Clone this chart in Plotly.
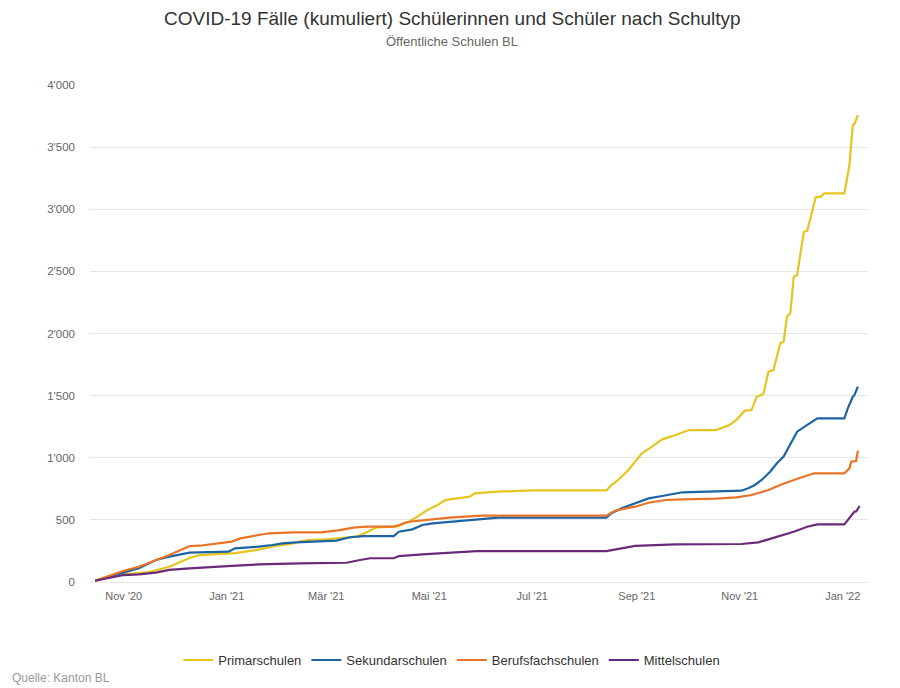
import plotly.graph_objects as go

# Primarschulen
prim_dates = ["2020-10-15", "2020-11-01", "2020-11-16", "2020-11-28", "2020-12-10", "2020-12-16",
              "2021-01-06", "2021-01-19", "2021-01-30", "2021-02-08", "2021-02-13", "2021-02-18",
              "2021-03-01", "2021-03-19", "2021-03-24", "2021-03-31", "2021-04-10", "2021-04-13",
              "2021-04-16", "2021-04-19", "2021-04-24", "2021-04-30", "2021-05-06", "2021-05-10",
              "2021-05-13", "2021-05-25", "2021-05-28", "2021-06-11", "2021-07-01", "2021-08-14",
              "2021-08-17", "2021-08-21", "2021-08-27", "2021-08-31", "2021-09-04", "2021-09-10",
              "2021-09-16", "2021-09-24", "2021-10-02", "2021-10-18", "2021-10-26", "2021-10-30",
              "2021-11-04", "2021-11-08", "2021-11-11", "2021-11-15", "2021-11-18", "2021-11-21",
              "2021-11-25", "2021-11-27", "2021-11-29", "2021-12-01", "2021-12-03", "2021-12-05",
              "2021-12-07", "2021-12-09", "2021-12-11", "2021-12-14", "2021-12-16", "2021-12-19",
              "2021-12-21", "2022-01-02", "2022-01-04", "2022-01-05", "2022-01-07", "2022-01-08",
              "2022-01-10"]
prim_vals = [10, 62, 80, 123, 193, 217,
             233, 258, 290, 306, 325, 338,
             343, 365, 394, 440, 445, 450,
             477, 485, 526, 580, 620, 655,
             665, 687, 714, 727, 738, 738,
             780, 821, 901, 968, 1035, 1089,
             1148, 1183, 1223, 1223, 1264, 1304,
             1379, 1384, 1491, 1513, 1693, 1706,
             1921, 1934, 2135, 2165, 2457, 2471,
             2645, 2819, 2827, 2994, 3096, 3101,
             3128, 3128, 3289, 3356, 3678, 3686,
             3758]

# Sekundarschulen
sek_dates = ["2020-10-15", "2020-11-01", "2020-11-10", "2020-11-20", "2020-11-28", "2020-12-10",
             "2021-01-02", "2021-01-06", "2021-01-20", "2021-01-28", "2021-02-03", "2021-02-11",
             "2021-02-19", "2021-02-26", "2021-03-07", "2021-03-15", "2021-03-23", "2021-04-10",
             "2021-04-13", "2021-04-21", "2021-04-27", "2021-05-03", "2021-05-13", "2021-05-29",
             "2021-06-11", "2021-08-14", "2021-08-17", "2021-08-23", "2021-08-31", "2021-09-08",
             "2021-09-16", "2021-09-28", "2021-11-02", "2021-11-06", "2021-11-10", "2021-11-14",
             "2021-11-19", "2021-11-23", "2021-11-27", "2021-12-01", "2021-12-05", "2021-12-11",
             "2021-12-15", "2021-12-17", "2022-01-02", "2022-01-04", "2022-01-07", "2022-01-08",
             "2022-01-10"]
sek_vals = [10, 75, 110, 177, 204, 236,
            244, 271, 284, 298, 311, 319,
            322, 325, 333, 360, 370, 370,
            405, 424, 459, 472, 485, 504,
            518, 518, 553, 593, 633, 673,
            692, 722, 735, 754, 781, 821,
            888, 955, 1009, 1116, 1210, 1264,
            1304, 1317, 1317, 1398, 1491, 1505,
            1572]

# Berufsfachschulen
beruf_dates = ["2020-10-15", "2020-11-01", "2020-11-10", "2020-11-20", "2020-11-28", "2020-12-10",
               "2020-12-16", "2021-01-04", "2021-01-09", "2021-01-20", "2021-01-26", "2021-02-09",
               "2021-02-26", "2021-03-09", "2021-03-17", "2021-03-25", "2021-04-10", "2021-04-19",
               "2021-05-03", "2021-05-13", "2021-06-01", "2021-08-14", "2021-08-19", "2021-08-31",
               "2021-09-08", "2021-09-18", "2021-09-28", "2021-10-18", "2021-10-30", "2021-11-08",
               "2021-11-18", "2021-11-25", "2021-12-03", "2021-12-11", "2021-12-15", "2022-01-02",
               "2022-01-05", "2022-01-06", "2022-01-09", "2022-01-10"]
beruf_vals = [10, 91, 123, 177, 217, 290,
              292, 325, 351, 378, 392, 400,
              400, 418, 437, 445, 445, 485,
              504, 518, 534, 534, 574, 606,
              638, 660, 665, 671, 681, 700,
              740, 781, 821, 856, 875, 875,
              915, 968, 974, 1057]

# Mittelschulen
mittel_dates = ["2020-10-15", "2020-11-01", "2020-11-10", "2020-11-20", "2020-11-28", "2020-12-10",
                "2021-01-04", "2021-01-20", "2021-02-13", "2021-03-13", "2021-03-21", "2021-03-27",
                "2021-04-10", "2021-04-13", "2021-04-27", "2021-05-13", "2021-05-29", "2021-08-14",
                "2021-08-23", "2021-08-31", "2021-09-16", "2021-09-24", "2021-11-02", "2021-11-12",
                "2021-11-18", "2021-11-25", "2021-12-03", "2021-12-11", "2021-12-17", "2022-01-02",
                "2022-01-05", "2022-01-08", "2022-01-09", "2022-01-11"]
mittel_vals = [10, 56, 62, 75, 97, 110,
               129, 142, 150, 155, 177, 191,
               191, 209, 223, 236, 249, 249,
               271, 290, 298, 303, 306, 319,
               343, 370, 405, 445, 464, 464,
               512, 566, 567, 612]

series = [
    ("Primarschulen", prim_dates, prim_vals, "#E5C51E"),
    ("Sekundarschulen", sek_dates, sek_vals, "#1C64A2"),
    ("Berufsfachschulen", beruf_dates, beruf_vals, "#E97326"),
    ("Mittelschulen", mittel_dates, mittel_vals, "#6B2A79"),
]

tick_dates = ["2020-11-01", "2021-01-01", "2021-03-01", "2021-05-01",
              "2021-07-01", "2021-09-01", "2021-11-01", "2022-01-01"]
tick_labels = ["Nov '20", "Jan '21", "Mär '21", "Mai '21",
               "Jul '21", "Sep '21", "Nov '21", "Jan '22"]

fig = go.Figure()
for name, d, v, c in series:
    fig.add_trace(go.Scatter(x=d, y=v, name=name, mode="lines",
                             line=dict(color=c, width=2.2)))

# the page body adds an 8px margin, so the figure is 8px smaller than the window
fig.update_layout(
    width=892, height=680,
    paper_bgcolor="white", plot_bgcolor="white",
    font=dict(family="Liberation Sans, Arial, sans-serif", color="#666666", size=11),
    separators=".'",
    margin=dict(l=82, r=32, t=77, b=106),
    showlegend=True,
    legend=dict(orientation="h", x=0.465, xanchor="center", y=-0.157, yanchor="middle",
                font=dict(size=13, color="#333333"), itemwidth=30),
)

fig.add_annotation(text="COVID-19 Fälle (kumuliert) Schülerinnen und Schüler nach Schultyp",
                   xref="paper", yref="paper", x=0.4653, y=1 + 67 / 497, xanchor="center",
                   yanchor="middle", showarrow=False, font=dict(size=19, color="#333333"))
fig.add_annotation(text="Öffentliche Schulen BL",
                   xref="paper", yref="paper", x=0.4653, y=1 + 43 / 497, xanchor="center",
                   yanchor="middle", showarrow=False, font=dict(size=13, color="#666666"))
fig.add_annotation(text="Quelle: Kanton BL",
                   xref="paper", yref="paper", x=-80 / 778, y=-96 / 497, xanchor="left",
                   yanchor="middle", showarrow=False, font=dict(size=12, color="#999999"))

fig.update_xaxes(range=["2020-10-12", "2022-01-16"], tickvals=tick_dates, ticktext=tick_labels,
                 showgrid=False, showline=False, zeroline=False, ticks="",
                 tickfont=dict(size=11, color="#666666"), ticklabelstandoff=6)
fig.update_yaxes(range=[0, 4000], tickvals=[0, 500, 1000, 1500, 2000, 2500, 3000, 3500, 4000],
                 tickformat=",", showgrid=True, gridcolor="#e6e6e6", gridwidth=1,
                 zeroline=True, zerolinecolor="#e6e6e6", zerolinewidth=1,
                 showline=False, ticks="", tickfont=dict(size=11.5, color="#666666"),
                 ticklabelstandoff=14)

fig.write_html("out.html")
